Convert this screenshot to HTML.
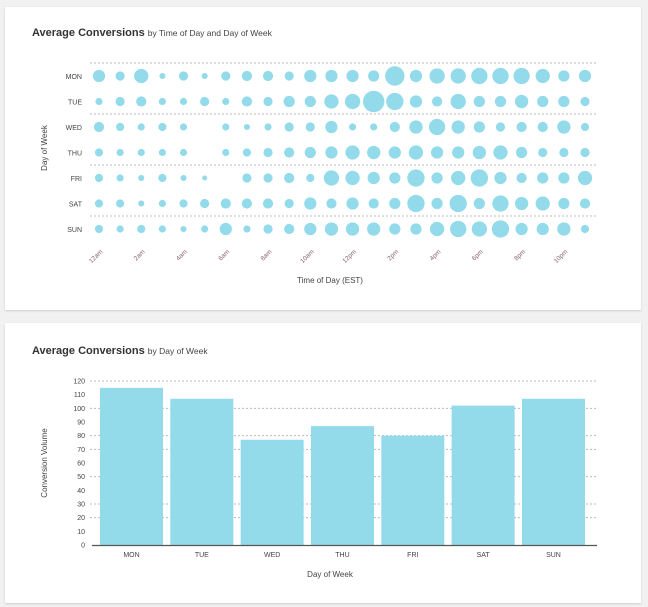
<!DOCTYPE html>
<html><head><meta charset="utf-8"><style>
body{margin:0;background:#f1f1f1;width:648px;height:607px;overflow:hidden;font-family:"Liberation Sans",sans-serif}
.card{position:absolute;left:5px;width:636px;background:#fff;box-shadow:0 1px 2px rgba(0,0,0,.15)}
.ttl{position:absolute;left:27px;font-size:11px;font-weight:bold;color:#333}
.ttl span{font-weight:normal;font-size:8.5px;color:#444}
svg{position:absolute;left:0;top:0}
text{font-family:"Liberation Sans",sans-serif}
</style></head><body>
<div class="card" style="top:7px;height:303px">
<div class="ttl" style="top:20px">Average Conversions <span>by Time of Day and Day of Week</span></div>
</div>
<div class="card" style="top:323px;height:280px">
<div class="ttl" style="top:22px">Average Conversions <span>by Day of Week</span></div>
</div>
<svg id="s" width="648" height="607"></svg>
<script>
const days=["MON","TUE","WED","THU","FRI","SAT","SUN"];
const hourTicks=["12am","2am","4am","6am","8am","10am","12pm","2pm","4pm","6pm","8pm","10pm"];
const mon=[6,4.5,7,3,4.5,3,4.5,5,5,4.5,6,6,6,5.5,9.5,6,7.5,7.5,8,8,8,7,5.5,6];
const tue=[3.5,4.5,5,3.5,3.5,4.5,3.5,5,4.5,5.5,5.5,7,7.5,10.5,8.5,6,5,7.5,5.5,5.5,6.5,5.5,5.5,4.5];
const wed=[5,4,3.5,4,3.5,0,3.5,3,3.5,4.5,4.5,6,3.5,3.5,5,6.5,8,6.5,5.5,4.5,5,5,6.5,4];
const thu=[4,3.5,3.5,3.5,3.5,0,3.5,4,4.5,5,5.5,6,7,6.5,6,7,6,6,6.5,7,5.5,4.5,4.5,4.5];
const fri=[4,3.5,3,4,3,2.5,0,4.5,4.5,5,4,7.5,7,6,5.5,8.5,5.5,7,8.5,6,5,5.5,5.5,7];
const sat=[4,4,3,3.5,4,4.5,5,5,5,4.5,6,5,6,5,5.5,8.5,5.5,8.5,5.5,8,6.5,7,5.5,5];
const sun=[4,3.5,4,3.5,3,3.5,6,3.5,4.5,5,6,6.5,6.5,6.5,5.5,5.5,7,8,7.5,8.5,6,6,6.5,4];
const barCats=["MON","TUE","WED","THU","FRI","SAT","SUN"];
const barVals=[115,107,77,87,80,102,107];
const yTicks=[0,10,20,30,40,50,60,70,80,90,100,110,120];
const gridVals=[120,100,80,70,50,30,20];

const S=document.getElementById('s'),NS="http://www.w3.org/2000/svg";
function mk(t,a,txt){const e=document.createElementNS(NS,t);for(const k in a)e.setAttribute(k,a[k]);if(txt!==undefined)e.textContent=txt;S.appendChild(e);return e;}
const rows=[mon,tue,wed,thu,fri,sat,sun];
const bx=i=>99+i*(486/23), by=j=>76+j*25.5, br=v=>v*1.02;
[63,114,165,216].forEach(y=>{const l=mk('line',{x1:90,x2:596,y1:y,y2:y,stroke:'#bbb','stroke-dasharray':'2,2'});

});
days.forEach((d,j)=>{const t=mk('text',{x:82,y:by(j)+3,'text-anchor':'end','font-size':7,fill:'#444'},d);


rows[j].forEach((v,i)=>{if(v<=0)return;const c=mk('circle',{cx:bx(i),cy:by(j),r:br(v),fill:'#93dbea'});

});});
hourTicks.forEach((h,k)=>{const x=bx(k*2),y=252;const t=mk('text',{x:x+4,y:y,'text-anchor':'end','font-size':6.5,fill:'#866',transform:`rotate(-45 ${x+4} ${y})`},h);

});
let t=mk('text',{x:330,y:283,'text-anchor':'middle','font-size':8,fill:'#444'},'Time of Day (EST)');


t=mk('text',{x:47,y:148,'text-anchor':'middle','font-size':8,fill:'#444',transform:'rotate(-90 47 148)'},'Day of Week');


const y0=545,yk=(545-381)/120,Y=v=>y0-v*yk,band=70.33,bw=63,X=i=>100+i*band;
gridVals.forEach(g=>{const l=mk('line',{x1:90,x2:597,y1:Y(g),y2:Y(g),stroke:'#bbb','stroke-dasharray':'2,2'});

});
yTicks.forEach(v=>{const e=mk('text',{x:85,y:Y(v)+2.5,'text-anchor':'end','font-size':7,fill:'#444'},v);

});
barVals.forEach((v,i)=>{const r=mk('rect',{x:X(i),y:Y(v),width:bw,height:y0-Y(v),fill:'#93dbea'});


const e=mk('text',{x:X(i)+bw/2,y:557,'text-anchor':'middle','font-size':7,fill:'#444'},barCats[i]);

});
const ax=mk('line',{x1:92,x2:597,y1:y0+.5,y2:y0+.5,stroke:'#555','stroke-width':1.3});


t=mk('text',{x:330,y:577,'text-anchor':'middle','font-size':8,fill:'#444'},'Day of Week');


t=mk('text',{x:47,y:463,'text-anchor':'middle','font-size':8,fill:'#444',transform:'rotate(-90 47 463)'},'Conversion Volume');


</script>
</body></html>
